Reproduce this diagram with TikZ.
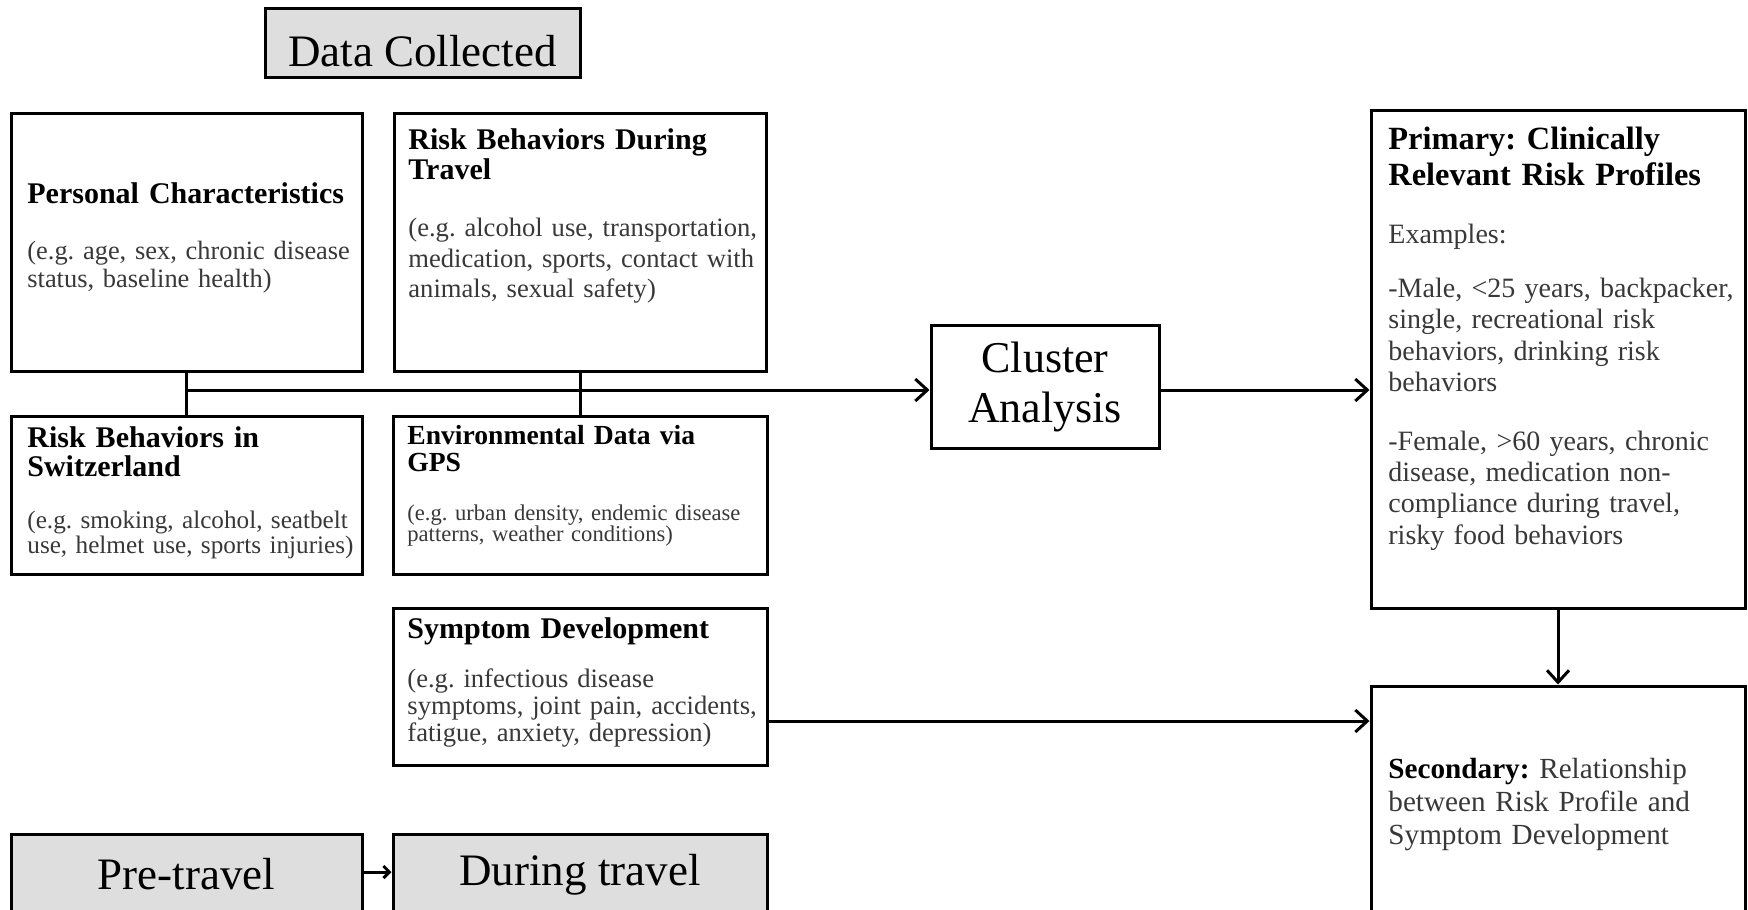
\documentclass[tikz,border=0pt]{standalone}
\usepackage{fontspec}
\setmainfont{Liberation Serif}
\usetikzlibrary{arrows.meta}
\newcommand{\fs}[2]{\fontsize{#1}{#2}\selectfont}
\frenchspacing

\begin{document}
\begin{tikzpicture}[x=0.5pt,y=-0.5pt,
    box/.style={draw,line width=1.5pt,inner sep=0pt},
    phase/.style={box,fill=black!13,font=\fs{22.5}{25}},
    txt/.style={anchor=base west,inner sep=0pt,text width=230pt,align=left},
    head/.style={txt,font=\bfseries},
    desc/.style={txt,text=black!78},
    link/.style={line width=1.5pt},
    arr/.style={link,-{Straight Barb[length=6pt,width=11pt]}}]
  \clip (0,0) rectangle (1748,909);
  \node[phase,minimum width=157.5pt,minimum height=34.5pt] (collected) at (422.5,43.5) {};
  \node[font=\fs{22.5}{25},inner sep=0pt] (collectedtxt) at (422.5,51) {Data Collected};
  \node[box,minimum width=175.5pt,minimum height=128.5pt] (personal) at (186.5,242.5) {};
  \node[box,minimum width=186pt,minimum height=128.5pt] (travel) at (580,242.5) {};
  \node[box,minimum width=175.5pt,minimum height=79pt] (swiss) at (186.5,495) {};
  \node[box,minimum width=187pt,minimum height=79pt] (gps) at (580,495) {};
  \node[box,minimum width=187pt,minimum height=78.5pt] (symptom) at (580,686.5) {};
  \node[phase,minimum width=175.5pt,minimum height=40.5pt] (pre) at (186.5,874.5) {Pre-travel};
  \node[phase,minimum width=187pt,minimum height=40.5pt] (during) at (580,874.5) {During travel};
  \node[box,minimum width=114pt,minimum height=61.5pt,align=center,font=\fs{22}{25}] (cluster) at (1045,387) {Cluster\\Analysis};
  \node[box,minimum width=187pt,minimum height=248.5pt] (primary) at (1558,359.5) {};
  \node[box,minimum width=187pt,minimum height=122pt] (secondary) at (1558,808) {};
  % texts
  \node[head,font=\bfseries\fs{15}{15}] (personalhead) at (27,204) {Personal Characteristics};
  \node[desc,font=\fs{13.2}{13.8}] (personaltxt) at (27,259.7) {(e.g. age, sex, chronic disease\\status, baseline health)};
  \node[head,font=\bfseries\fs{15}{15}] (travelhead) at (408,149.4) {Risk Behaviors During\\Travel};
  \node[desc,font=\fs{13.3}{15.35}] (traveltxt) at (408,236.3) {(e.g. alcohol use, transportation,\\medication, sports, contact with\\animals, sexual safety)};
  \node[head,font=\bfseries\fs{15}{14.5}] (swisshead) at (27,447) {Risk Behaviors in\\Switzerland};
  \node[desc,font=\fs{12.6}{11.15}] (swisstxt) at (27,528.4) {(e.g. smoking, alcohol, seatbelt\\use, helmet use, sports injuries)};
  \node[head,font=\bfseries\fs{13.8}{13.4}] (gpshead) at (407,444.8) {Environmental Data via\\GPS};
  \node[desc,font=\fs{11.3}{10.6}] (gpstxt) at (407,520.6) {(e.g. urban density, endemic disease\\patterns, weather conditions)};
  \node[head,font=\bfseries\fs{15}{15}] (symptomhead) at (407,638.8) {Symptom Development};
  \node[desc,font=\fs{13.3}{13.4}] (symptomtxt) at (407,687.8) {(e.g. infectious disease\\symptoms, joint pain, accidents,\\fatigue, anxiety, depression)};
  \node[head,font=\bfseries\fs{16.2}{17.8}] (primaryhead) at (1388,149.4) {Primary: Clinically\\Relevant Risk Profiles};
  \node[desc,font=\fs{14}{15.6}] (examples) at (1388,243) {Examples:};
  \node[desc,font=\fs{14}{15.6}] (male) at (1388,297.7) {-Male, <25 years, backpacker,\\single, recreational risk\\behaviors, drinking risk\\behaviors};
  \node[desc,font=\fs{14}{15.6}] (female) at (1388,450.4) {-Female, >60 years, chronic\\disease, medication non-\\compliance during travel,\\risky food behaviors};
  \node[desc,font=\fs{14.6}{16.7}] (secondarytxt) at (1388,778) {\textcolor{black}{\textbf{Secondary:}} Relationship\\between Risk Profile and\\Symptom Development};
  \begin{scope}[link]
    \draw (personal) -- (swiss);
    \draw (travel) -- (gps);
    \draw[arr] (personal.south |- 0,390) -- (cluster.west |- 0,390);
    \draw[arr] (cluster.east |- 0,390) -- (primary.west |- 0,390);
    \draw[arr] (primary) -- (secondary);
    \draw[arr] (symptom.east |- 0,721) -- (secondary.west |- 0,721);
    \draw[link,-{Straight Barb[length=3pt,width=6pt]}] (pre.east |- 0,872) -- (during.west |- 0,872);
  \end{scope}
\end{tikzpicture}
\end{document}
